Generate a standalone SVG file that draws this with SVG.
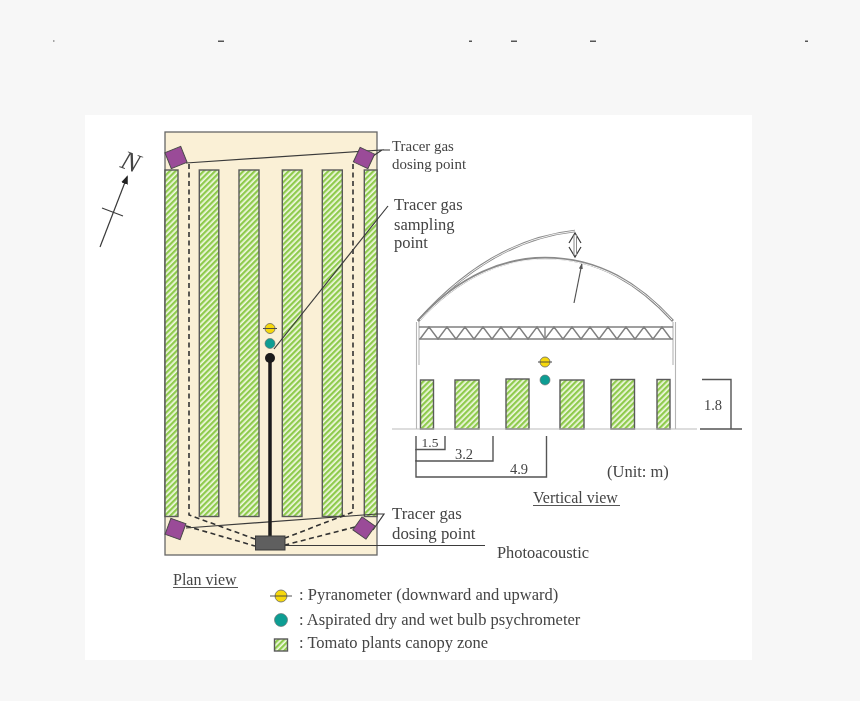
<svg xmlns="http://www.w3.org/2000/svg" width="860" height="701" viewBox="0 0 860 701">
<style>
text{font-family:"Liberation Serif","Times New Roman",serif;fill:#444;font-size:16.5px}
.num{font-size:14.5px;text-anchor:middle}
.canopy{fill:url(#hatch);stroke:#5a5a5a;stroke-width:1.4}
.pur{fill:#9a4b98;stroke:#4a4a4a;stroke-width:1}
.ln{fill:none;stroke:#3a3a3a;stroke-width:1.2}
.dash{fill:none;stroke:#333;stroke-width:1.6;stroke-dasharray:5 3.5}
.dim{fill:none;stroke:#555;stroke-width:1.4}
.yel{fill:#f6d80c;stroke:#666;stroke-width:.8}
.teal{fill:#0e9d93;stroke:#666;stroke-width:.6}
.und{stroke:#555;stroke-width:1}
.arcO{fill:none;stroke:#8a8a8a;stroke-width:2.6}
.arcI{fill:none;stroke:#f2f2f2;stroke-width:1}
.truss{fill:none;stroke:#808080;stroke-width:1.4}
.wall{fill:none;stroke:#b5b5b5;stroke-width:1.1}
.smudge{fill:#555}
</style>
<defs>
<pattern id="hatch" width="4" height="4" patternUnits="userSpaceOnUse" patternTransform="rotate(45)">
<rect width="4" height="4" fill="#f2f9e4"/>
<rect width="2.300" height="4" fill="#8fcb4e"/>
</pattern>
<marker id="tip" markerWidth="10" markerHeight="9" refX="7" refY="3.500" orient="auto" markerUnits="userSpaceOnUse"><path d="M0,0L9,3.500L0,7z" fill="#222"/></marker>
<marker id="tip2" markerWidth="9" markerHeight="9" refX="6" refY="2" orient="auto" markerUnits="userSpaceOnUse"><path d="M0,0L6,2L0,4z" fill="#555"/></marker>
<filter id="soft" x="0" y="0" width="100%" height="100%"><feGaussianBlur stdDeviation="0.4"/></filter>
</defs>
<rect width="860" height="701" fill="#f7f7f7"/>
<rect x="85" y="115" width="667" height="545" fill="#fff"/>
<g filter="url(#soft)">
<g id="top-marks">
<rect class="smudge" x="53" y="40.500" width="1.500" height="1"/><rect class="smudge" x="218" y="40.500" width="6" height="1.500"/><rect class="smudge" x="469" y="40.500" width="3" height="1.500"/><rect class="smudge" x="511" y="40.500" width="6" height="1.500"/><rect class="smudge" x="590" y="40.500" width="6" height="1.500"/><rect class="smudge" x="805" y="40.500" width="3" height="1.500"/>
</g>
<g id="plan-floor"><rect x="165" y="132" width="212" height="423" fill="#faf0d6" stroke="#666" stroke-width="1.300"/></g>
<g id="plan-canopy">
<rect class="canopy" x="165" y="170" width="13" height="346.500"/>
<rect class="canopy" x="199.300" y="170" width="19.500" height="346.500"/>
<rect class="canopy" x="239" y="170" width="20" height="346.500"/>
<rect class="canopy" x="282.300" y="170" width="19.700" height="346.500"/>
<rect class="canopy" x="322.300" y="170" width="20" height="346.500"/>
<rect class="canopy" x="364.300" y="170" width="12.700" height="346.500"/>
</g>
<g id="connectors">
<path class="dash" d="M189,164V515L255,539"/>
<path class="dash" d="M186,526L255,546"/>
<path class="dash" d="M353,164V512L285,538"/>
<path class="dash" d="M355,527L285,545"/>
<path class="ln" d="M186,163L382,150L367,160M382,150H390"/>
<path class="ln" d="M186,528L377,514H384L373,530"/>
<path class="ln" d="M274,349L388,206"/>
<path class="ln" d="M285,545.500H485"/>
<path d="M270,358V536" fill="none" stroke="#1e1a1a" stroke-width="3.500"/>
<path class="ln" d="M100,247L127,177" marker-end="url(#tip)"/>
<path class="ln" d="M102,208L123,216"/>
<path class="ln" d="M574,303L582,263" marker-end="url(#tip2)" style="stroke:#555"/>
<path class="ln" d="M569,243L575,233L581,243M569,247L575,257L581,247"/>
<path d="M574,235V255M576.500,235V255" fill="none" stroke="#8a8a8a" stroke-width="1"/>
</g>
<g id="dosing-nw"><rect class="pur" x="167.500" y="149" width="17" height="17" transform="rotate(-22 176 157.500)"/></g>
<g id="dosing-ne"><rect class="pur" x="356" y="150" width="16" height="16" transform="rotate(25 364 158)"/></g>
<g id="dosing-sw"><rect class="pur" x="167.500" y="520.500" width="16" height="17" transform="rotate(20 175.500 529)"/></g>
<g id="dosing-se"><rect class="pur" x="356" y="520" width="16" height="16" transform="rotate(35 364 528)"/></g>
<g id="photoacoustic-box"><rect x="255.500" y="536" width="29.500" height="14" fill="#5f5f5f" stroke="#3a3a3a" stroke-width="1"/></g>
<g id="plan-sensors">
<path d="M263,328.500H277" stroke="#444" stroke-width="1"/>
<circle class="yel" cx="270" cy="328.500" r="5"/><path d="M265,328.500H275" stroke="#444" stroke-width=".9"/>
<circle class="teal" cx="270" cy="343.500" r="5"/>
<circle cx="270" cy="358" r="5" fill="#1e1a1a"/>
</g>
<g id="house">
<path class="arcO" d="M418,321Q490,240 575,231"/><path class="arcI" d="M418,321Q490,240 575,231"/>
<path class="arcO" d="M418,321C460,275 505,258 545,258C600,258 640,285 673,321"/><path class="arcI" d="M420,320C460,276 505,259.500 545,259C600,259 640,285 672,320"/>
<path class="wall" d="M416.500,322V429M419,322V365M673,322V365M675.500,322V429"/>
<path class="truss" d="M419,327H673M419,339H673M545,327V339"/>
<path class="truss" d="M420,339L429,327L438,339L447,327L456,339L465,327L474,339L483,327L492,339L501,327L510,339L519,327L528,339L537,327L545,339L554,327L563,339L572,327L581,339L590,327L599,339L608,327L617,339L626,327L635,339L644,327L653,339L662,327L671,339"/>
</g>
<g id="vertical-canopy">
<rect class="canopy" x="420.500" y="380" width="13" height="49"/>
<rect class="canopy" x="455" y="380" width="24" height="49"/>
<rect class="canopy" x="506" y="379" width="23" height="50"/>
<rect class="canopy" x="560" y="380" width="24" height="49"/>
<rect class="canopy" x="611" y="379.500" width="23.500" height="49.500"/>
<rect class="canopy" x="657" y="379.500" width="13" height="49.500"/>
</g>
<g id="vertical-sensors">
<path d="M538,362H552" stroke="#444" stroke-width="1"/>
<circle class="yel" cx="545" cy="362" r="5"/><path d="M540,362H550" stroke="#444" stroke-width=".9"/>
<circle class="teal" cx="545" cy="380" r="5"/>
</g>
<g id="dimensions">
<path d="M392,429H697" stroke="#bbb" stroke-width="1.100"/>
<path class="dim" d="M700,429H742M702,379.500H731V429"/>
<path class="dim" d="M416,436V449.500H445V436"/>
<path class="dim" d="M416,449V461H493V436"/>
<path class="dim" d="M416,460V477H546.500V436"/>
<text class="num" x="430" y="447" style="font-size:13.500px">1.5</text>
<text class="num" x="464" y="458.500">3.2</text>
<text class="num" x="519" y="474">4.9</text>
<text class="num" x="713" y="410">1.8</text>
<text x="607" y="477">(Unit: m)</text>
</g>
<g id="labels">
<text x="122" y="171" transform="rotate(20 132 161)" style="font-size:27px;font-style:italic">N</text>
<text x="392" y="151" style="font-size:14.900px">Tracer gas</text>
<text x="392" y="169" style="font-size:14.900px">dosing point</text>
<text x="394" y="210">Tracer gas</text>
<text x="394" y="229.500">sampling</text>
<text x="394" y="248">point</text>
<text x="392" y="519" style="font-size:16.800px">Tracer gas</text>
<text x="392" y="538.500" style="font-size:16.800px">dosing point</text>
<text x="497" y="558" style="font-size:16.400px">Photoacoustic</text>
<text x="173" y="585" style="font-size:16px">Plan view</text><path class="und" d="M173,587.500H238"/>
<text x="533" y="503" style="font-size:16px">Vertical view</text><path class="und" d="M533,505.500H620"/>
</g>
<g id="legend">
<path d="M270,596H292" stroke="#555" stroke-width="1"/>
<circle class="yel" cx="281" cy="596" r="6"/><path d="M275,596H287" stroke="#444" stroke-width=".9"/>
<circle class="teal" cx="281" cy="620" r="6.500"/>
<rect class="canopy" x="274.500" y="639" width="13" height="12"/>
<text x="299" y="600">: Pyranometer (downward and upward)</text>
<text x="299" y="625">: Aspirated dry and wet bulb psychrometer</text>
<text x="299" y="648">: Tomato plants canopy zone</text>
</g>
</g>
</svg>
